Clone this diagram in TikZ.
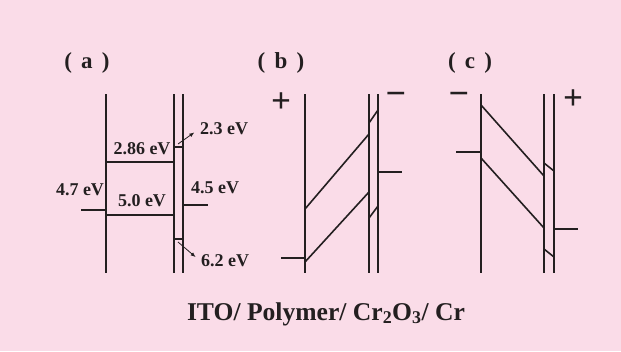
\documentclass[tikz,border=0pt]{standalone}
\usepackage{fontspec}
\setmainfont{Liberation Serif}
\usetikzlibrary{arrows.meta}
\definecolor{bgpink}{HTML}{FADCE8}
\definecolor{ink}{HTML}{231F20}

\begin{document}
\begin{tikzpicture}[x=1pt,y=-1pt,line width=1.6pt,
  lbl/.style={font=\fontsize{18}{18}\selectfont\bfseries,inner sep=0pt,text=ink},
  ttl/.style={font=\fontsize{23}{23}\selectfont\bfseries,inner sep=0pt,text=ink},
  sgn/.style={font=\fontsize{35}{35}\selectfont\bfseries,inner sep=0pt,text=ink},
  neg/.style={font=\fontsize{36}{36}\selectfont\bfseries,inner sep=0pt,text=ink}]
  % background
  \fill[bgpink] (0,0) rectangle (621,351);
  \useasboundingbox (0,0) rectangle (621,351);
  \begin{scope}[draw=ink]
  % (a) flat bands
  \node[ttl] (ttla) at (87,63) {(\hspace{0.4em}a\hspace{0.4em})};
  \draw (106,94) -- (106,273); % ITO / polymer
  \draw (174,94) -- (174,273); % polymer / oxide
  \draw (183,94) -- (183,273); % oxide / Cr
  \draw (106,162) -- (174,162); % LUMO
  \draw (106,215) -- (174,215); % HOMO
  \draw (81,210) -- (106,210); % ITO level
  \draw (183,205) -- (208,205); % Cr level
  \draw (174,147) -- (183,147); % oxide CB
  \draw (174,239) -- (183,239); % oxide VB
  \node[lbl] (lumoa) at (142,149) {2.86 eV};
  \node[lbl] (homoa) at (142,201) {5.0 eV};
  \node[lbl] (itoa) at (80,190) {4.7 eV};
  \node[lbl] (cra) at (215,188) {4.5 eV};
  \node[lbl] (cbox) at (224,129) {2.3 eV};
  \node[lbl] (vbox) at (225,261) {6.2 eV};
  \coordinate (cbtip) at (178,144);
  \coordinate (vbtip) at (178,242);
  \draw[line width=0.8pt,-{Latex[length=5pt,width=4pt]},shorten >=6pt] (cbtip) -- (cbox.west);
  \draw[line width=0.8pt,-{Latex[length=5pt,width=4pt]},shorten >=6pt] (vbtip) -- (vbox.west);
  % (b) forward bias
  \node[ttl] (ttlb) at (281,63) {(\hspace{0.4em}b\hspace{0.4em})};
  \draw (305,94) -- (305,273);
  \draw (369,94) -- (369,273);
  \draw (378,94) -- (378,273);
  \draw (305,209) -- (369,134); % LUMO
  \draw (305,262) -- (369,192); % HOMO
  \draw (369,123) -- (378,110); % oxide CB
  \draw (369,218) -- (378,206); % oxide VB
  \draw (281,258) -- (305,258); % ITO level
  \draw (378,172) -- (402,172); % Cr level
  \node[sgn] (plusb) at (281,103) {+};
  \node[neg] (minusb) at (396,99) {−};
  % (c) reverse bias
  \node[ttl] (ttlc) at (470,63) {(\hspace{0.4em}c\hspace{0.4em})};
  \draw (481,94) -- (481,273);
  \draw (544,94) -- (544,273);
  \draw (554,94) -- (554,273);
  \draw (481,105) -- (544,176); % LUMO
  \draw (481,158) -- (544,228); % HOMO
  \draw (544,163) -- (554,171); % oxide CB
  \draw (544,249) -- (554,257); % oxide VB
  \draw (456,152) -- (481,152); % ITO level
  \draw (554,229) -- (578,229); % Cr level
  \node[neg] (minusc) at (459,99) {−};
  \node[sgn] (plusc) at (573,100) {+};
  \end{scope}
  % layer stack
  \node[font=\fontsize{25.6}{25.6}\selectfont\bfseries,inner sep=0pt,text=ink,anchor=base] (stack) at (326,320)
    {ITO/ Polymer/ Cr\textsubscript{2}O\textsubscript{3}/ Cr};
\end{tikzpicture}
\end{document}
